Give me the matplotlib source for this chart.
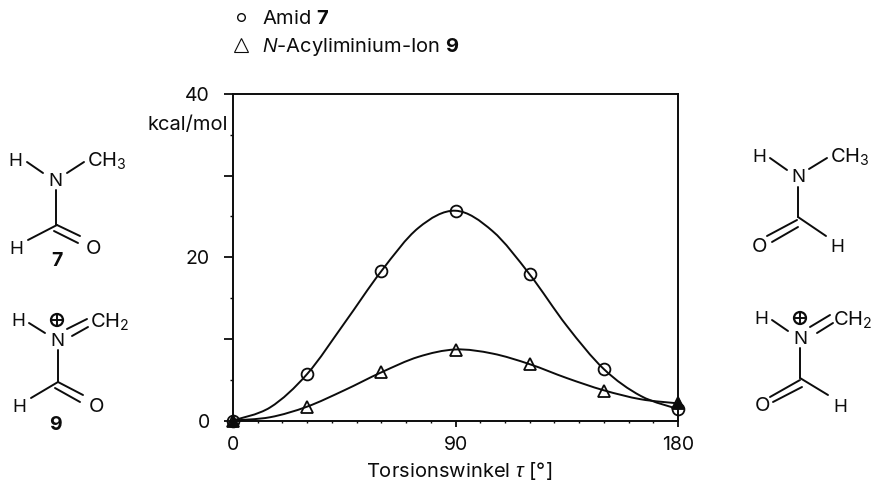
import matplotlib
matplotlib.use('Agg')
import matplotlib.pyplot as plt
from matplotlib.lines import Line2D
from matplotlib.path import Path
from matplotlib.patches import PathPatch, Circle

# Data
angle = [0, 30, 60, 90, 120, 150, 180]
amid = [0, 5.7, 18.3, 25.7, 17.9, 6.3, 1.4]
ion = [0, 1.7, 5.9, 8.6, 6.9, 3.6, 2.1]

# points along the drawn curves
curve_angle = [0, 15, 30, 45, 60, 75, 90, 105, 120, 135, 150, 165, 180]
amid_curve = [0, 1.6, 5.7, 11.9, 18.3, 23.6, 25.7, 23.2, 17.9, 11.6, 6.3, 3.0, 1.4]
ion_curve = [0, 0.4, 1.7, 3.7, 5.9, 7.8, 8.7, 8.2, 6.9, 5.2, 3.7, 2.6, 2.1]

x_major = [0, 90, 180]
x_minor = list(range(10, 180, 10))
y_major = [0, 10, 20, 30, 40]
y_labels = ['0', '', '20', '', '40']
y_minor = [5, 15, 25, 35]

INK = '#0c0c0c'
FS = 14.5
plt.rcParams['font.family'] = ['Inter', 'Liberation Sans', 'DejaVu Sans']
plt.rcParams['mathtext.fontset'] = 'custom'
plt.rcParams['mathtext.rm'] = 'Inter'
plt.rcParams['mathtext.it'] = 'Liberation Sans:italic'
plt.rcParams['mathtext.bf'] = 'Inter:bold'

W, H = 871, 484
fig = plt.figure(figsize=(W / 100, H / 100), dpi=100, facecolor='white')
ax = fig.add_axes([233 / W, (H - 420.5) / H, 445 / W, 326.5 / H])


def smooth(ax, xs, ys):
    # Catmull-Rom through the read points, drawn as bezier segments
    verts = [(xs[0], ys[0])]
    codes = [Path.MOVETO]
    n = len(xs)
    for i in range(n - 1):
        x0, y0 = xs[max(i - 1, 0)], ys[max(i - 1, 0)]
        x1, y1 = xs[i], ys[i]
        x2, y2 = xs[i + 1], ys[i + 1]
        x3, y3 = xs[min(i + 2, n - 1)], ys[min(i + 2, n - 1)]
        verts += [(x1 + (x2 - x0) / 6, y1 + (y2 - y0) / 6),
                  (x2 - (x3 - x1) / 6, y2 - (y3 - y1) / 6),
                  (x2, y2)]
        codes += [Path.CURVE4] * 3
    ax.add_patch(PathPatch(Path(verts, codes), fc='none', ec=INK, lw=1.4,
                           clip_on=False, zorder=3))


smooth(ax, curve_angle, amid_curve)
smooth(ax, curve_angle, ion_curve)
ax.plot(angle, amid, 'o', ms=8.5, mfc='none', mec=INK, mew=1.3, clip_on=False, zorder=4)
ax.plot(angle, ion, '^', ms=8.5, mfc='none', mec=INK, mew=1.3, clip_on=False, zorder=4)
# overlapping end points print almost solid in the original
ax.plot(angle, ion, '^', ms=7, color=INK, markevery=[0, 6], clip_on=False, zorder=4)

ax.set_xlim(0, 180)
ax.set_ylim(0, 40)
ax.set_xticks(x_major)
ax.set_xticks(x_minor, minor=True)
ax.set_yticks(y_major)
ax.set_yticklabels(y_labels)
ax.set_yticks(y_minor, minor=True)
ax.tick_params(axis='both', which='major', labelsize=14, colors=INK, width=1.3)
ax.tick_params(axis='x', which='major', length=4, pad=7)
ax.tick_params(axis='y', which='major', length=6.5, pad=10)
ax.tick_params(axis='both', which='minor', width=1, color=INK)
ax.tick_params(axis='x', which='minor', length=1.5)
ax.tick_params(axis='y', which='minor', length=2)
for spine in ax.spines.values():
    spine.set_linewidth(1.4)
    spine.set_color(INK)
ax.set_xlabel(r'Torsionswinkel $\mathit{\tau}$ [°]', fontsize=FS, color=INK)
ax.xaxis.set_label_coords(226 / 445, -39 / 326.5)

# Legend above the plot
handles = [Line2D([], [], ls='none', marker='o', ms=5.5, mfc='none', mec=INK, mew=1),
           Line2D([], [], ls='none', marker='^', ms=10, mfc='none', mec=INK, mew=0.8)]
labels = [r'Amid $\mathbf{7}$', r'$\mathit{N}$-Acyliminium-Ion $\mathbf{9}$']
fig.legend(handles, labels, loc='upper left', bbox_to_anchor=(231 / W, 1 - 10 / H),
           frameon=False, fontsize=FS, handlelength=1.0, handletextpad=0.55,
           labelspacing=0.38, borderpad=0, borderaxespad=0, labelcolor=INK)

# Overlay in pixel coordinates for the formula drawings
ov = fig.add_axes([0, 0, 1, 1], zorder=5)
ov.set_xlim(0, W)
ov.set_ylim(H, 0)
ov.axis('off')
ov.patch.set_alpha(0)


def label(x, y, s, ha='center', **kw):
    ov.text(x, y, s, ha=ha, va='center', fontsize=kw.pop('fs', 13.5), color=INK, **kw)


def bonds(segments):
    for x0, y0, x1, y1 in segments:
        ov.plot([x0, x1], [y0, y1], color=INK, lw=1.4, solid_capstyle='round')


def plus(x, y):
    ov.add_patch(Circle((x, y), 6, fc='none', ec=INK, lw=1.6))
    bonds([(x - 6, y, x + 6, y), (x, y - 6, x, y + 6)])


label(147, 125, 'kcal/mol', ha='left', fs=FS)

# 7 left
label(15, 161, 'H')
label(55, 182, 'N')
label(87, 161, r'CH$_3$', ha='left', fs=FS)
label(16, 250, 'H')
label(93, 249, 'O', fs=14.5)
label(57, 261, '7', fontweight='bold', fs=14)
bonds([(27, 162, 43, 173), (67, 173, 84, 162), (56, 190, 56, 225), (57, 225, 28, 240),
       (57, 225, 80, 236), (54, 231, 78, 243)])

# 9 left
label(18, 322, 'H')
plus(57, 320)
label(57, 342, 'N')
label(90, 322, r'CH$_2$', ha='left', fs=FS)
label(19, 408, 'H')
label(96, 407, 'O', fs=14.5)
label(55, 425, '9', fontweight='bold', fs=14)
bonds([(29, 323, 45, 333), (67, 329, 87, 319), (72, 336, 88, 327), (58, 350, 58, 382),
       (58, 382, 31, 398), (58, 382, 83, 395), (55, 388, 80, 402)])

# 7 right
label(759, 157, 'H')
label(798, 178, 'N')
label(830, 157, r'CH$_3$', ha='left', fs=FS)
label(759, 247, 'O', fs=14.5)
label(837, 247, 'H')
bonds([(770, 158, 787, 170), (809, 169, 827, 158), (798, 187, 798, 217), (798, 217, 826, 236),
       (797, 220, 767, 236), (798, 227, 772, 242)])

# 9 right
label(761, 320, 'H')
plus(800, 318)
label(800, 340, 'N')
label(833, 320, r'CH$_2$', ha='left', fs=FS)
label(762, 406, 'O', fs=14.5)
label(840, 407, 'H')
bonds([(772, 320, 788, 331), (810, 327, 830, 315), (817, 333, 833, 323), (800, 348, 800, 378),
       (800, 378, 828, 395), (800, 380, 770, 397), (802, 387, 773, 402)])

fig.savefig('out.png', dpi=100)
